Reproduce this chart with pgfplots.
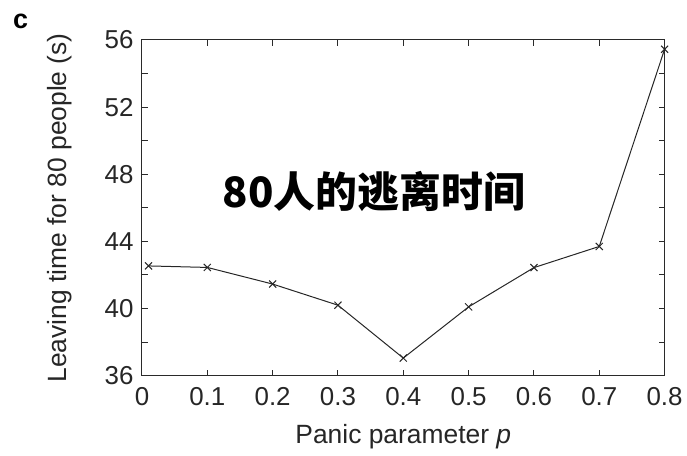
\documentclass[border=0pt]{standalone}
\usepackage{fontspec}
\setmainfont{Liberation Sans}
\newfontfamily\cjk{Noto Sans CJK SC}[BoldFont={Noto Sans CJK SC Black}]
\usepackage{pgfplots}
\pgfplotsset{compat=1.18}
\definecolor{axisgray}{HTML}{2a2a2a}
\begin{document}
\begin{tikzpicture}
\useasboundingbox (-142bp,-80.3bp) rectangle (545bp,375.7bp);
\begin{axis}[
  at={(0,0)}, anchor=south west,
  scale only axis,
  width=522.6bp, height=335.7bp,
  xmin=0, xmax=0.8, ymin=36, ymax=56,
  xtick={0,0.1,0.2,0.3,0.4,0.5,0.6,0.7,0.8},
  xticklabels={0,0.1,0.2,0.3,0.4,0.5,0.6,0.7,0.8},
  ytick={36,40,44,48,52,56},
  yticklabels={36,40,44,48,52,56},
  minor ytick={38,42,46,50,54},
  tick align=inside,
  major tick length=6bp, minor tick length=6bp,
  tick style={axisgray, line width=1bp},
  axis line style={axisgray, line width=1bp},
  /pgf/number format/assume math mode=true,
  tick label style={font=\fontsize{26}{30}\selectfont, text=black!85},
  xticklabel style={yshift=-8bp},
  yticklabel style={xshift=-5bp},
  xlabel={Panic parameter \textit{p}},
  ylabel={Leaving time for 80 people (s)},
  label style={font=\fontsize{26.5}{30}\selectfont, text=black!85},
  xlabel style={at={(axis description cs:0.5,-0.1826)}, anchor=center},
  ylabel style={at={(axis description cs:-0.157,0.5)}, anchor=center, rotate=0},
  clip=false,
]
\addplot[color=black!85, line width=1bp, mark=x, mark size=5bp, mark options={line width=1bp}]
coordinates {
(0.01,42.54) (0.1,42.45) (0.2,41.46) (0.3,40.2) (0.4,37.05) (0.5,40.1) (0.6,42.44) (0.7,43.7) (0.8,55.45)
};
\end{axis}
\node[font=\fontsize{27}{30}\selectfont\bfseries] at (-121.5bp,354.7bp) {c};
\node[font=\cjk\bfseries\fontsize{42}{48}\selectfont] at (232bp,184.7bp) {80人的逃离时间};
\end{tikzpicture}
\end{document}
